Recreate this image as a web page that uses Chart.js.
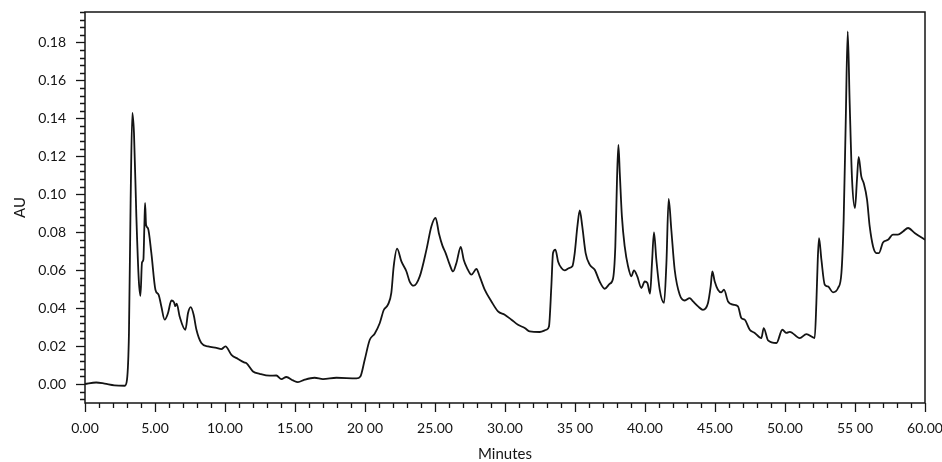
<!DOCTYPE html>
<html>
<head>
<meta charset="utf-8">
<title>Chromatogram</title>
<script src="https://cdn.jsdelivr.net/npm/chart.js@4.4.1/dist/chart.umd.min.js"></script>
<style>
  html, body { margin: 0; padding: 0; background: #fff; }
  #chart { display: block; }
</style>
</head>
<body>
<canvas id="chart" width="942" height="462"></canvas>
<script>
// retention time (min) and absorbance (AU)
const minutes = [
  0.0, 0.8, 1.4, 2.1, 2.84, 3.0, 3.14, 3.26, 3.38, 3.5, 3.67, 3.84, 3.96, 4.07, 4.17, 4.24, 4.29, 4.36, 4.5, 4.74,
  5.03, 5.26, 5.45, 5.69, 5.93, 6.17, 6.36, 6.45, 6.55, 6.76, 7.17, 7.36, 7.55, 7.76, 7.96, 8.31, 8.79, 9.39, 9.74,
  10.03, 10.46, 10.93, 11.36, 11.53, 12.0, 12.48, 13.19, 13.67, 14.03, 14.38, 14.86, 15.21, 15.69, 16.4, 17.0, 17.96,
  19.39, 19.67, 19.98, 20.34, 20.69, 21.05, 21.34, 21.64, 21.88, 22.05, 22.29, 22.6, 22.96, 23.19, 23.48, 23.91,
  24.39, 24.74, 25.04, 25.29, 25.53, 25.76, 26.05, 26.29, 26.53, 26.84, 27.05, 27.29, 27.6, 27.96, 28.19, 28.55,
  29.03, 29.5, 29.98, 30.46, 30.93, 31.41, 31.76, 32.48, 32.96, 33.14, 33.31, 33.43, 33.6, 33.79, 34.03, 34.26,
  34.57, 34.81, 34.98, 35.17, 35.34, 35.52, 35.76, 36.05, 36.41, 36.76, 37.12, 37.48, 37.71, 37.88, 38.0, 38.1,
  38.2, 38.35, 38.55, 38.79, 39.03, 39.21, 39.45, 39.74, 39.98, 40.17, 40.36, 40.5, 40.64, 40.81, 41.05, 41.36,
  41.53, 41.69, 41.88, 42.12, 42.48, 42.84, 43.19, 43.43, 43.79, 44.14, 44.5, 44.69, 44.81, 44.98, 45.21, 45.45,
  45.64, 45.93, 46.29, 46.64, 46.88, 47.12, 47.48, 47.84, 48.31, 48.48, 48.79, 49.39, 49.81, 50.1, 50.34, 51.05,
  51.53, 52.12, 52.24, 52.34, 52.43, 52.6, 52.84, 53.07, 53.43, 53.79, 54.03, 54.19, 54.34, 54.48, 54.62, 54.79,
  55.0, 55.14, 55.26, 55.45, 55.62, 55.86, 56.05, 56.29, 56.53, 56.71, 57.0, 57.36, 57.71, 58.07, 58.43, 58.79,
  59.26, 60.0
]
const absorbance = [
  0.0, 0.0008, 0.0002, -0.0007, -0.0009, 0.0023, 0.027, 0.097, 0.1428, 0.132, 0.088, 0.055, 0.0465, 0.064, 0.0655, 0.083, 0.0954, 0.084, 0.082, 0.069,
  0.0497, 0.047, 0.041, 0.0339, 0.0374, 0.044, 0.043, 0.041, 0.0423, 0.0356, 0.0286, 0.0374, 0.0405, 0.0365, 0.0286, 0.0216, 0.0198, 0.019, 0.0184,
  0.0198, 0.0154, 0.0132, 0.0114, 0.011, 0.0066, 0.0054, 0.0044, 0.0045, 0.0026, 0.0037, 0.0019, 0.001, 0.0023, 0.0033, 0.0026, 0.0033,
  0.003, 0.004, 0.0128, 0.0233, 0.0265, 0.032, 0.039, 0.0418, 0.048, 0.062, 0.0713, 0.0646, 0.0593, 0.054, 0.0518, 0.0567,
  0.0708, 0.083, 0.0875, 0.079, 0.0729, 0.069, 0.0629, 0.0593, 0.0638, 0.0722, 0.0655, 0.0611, 0.0576, 0.0606, 0.0567, 0.0497,
  0.0435, 0.0383, 0.0365, 0.0339, 0.0312, 0.0295, 0.0277, 0.0274, 0.0286, 0.0303, 0.0514, 0.069, 0.0708, 0.0646, 0.0611, 0.0599,
  0.0611, 0.062, 0.069, 0.083, 0.0915, 0.083, 0.069, 0.0629, 0.0602, 0.054, 0.0502, 0.0528, 0.0553, 0.0725, 0.1076, 0.126,
  0.111, 0.0883, 0.0725, 0.062, 0.0567, 0.0599, 0.0567, 0.0506, 0.054, 0.0532, 0.0476, 0.0638, 0.0799, 0.0655, 0.0497, 0.0427,
  0.0638, 0.0975, 0.0813, 0.0602, 0.047, 0.044, 0.0453, 0.0435, 0.0409, 0.0391, 0.0427, 0.0514, 0.0593, 0.054, 0.0497, 0.0483,
  0.0497, 0.0435, 0.0418, 0.0409, 0.0348, 0.0339, 0.0286, 0.0269, 0.0242, 0.0295, 0.023, 0.0216, 0.0286, 0.0269, 0.0275, 0.0242,
  0.0263, 0.0242, 0.0427, 0.0655, 0.0769, 0.0655, 0.0523, 0.0514, 0.0483, 0.0506, 0.0585, 0.0866, 0.139, 0.1858, 0.148, 0.1076,
  0.0927, 0.1076, 0.1196, 0.1094, 0.1059, 0.0971, 0.083, 0.0725, 0.069, 0.069, 0.0746, 0.076, 0.0787, 0.0787, 0.0804, 0.0822,
  0.0796, 0.076
]

// axis ticks
const xTicks = [0, 5, 10, 15, 20, 25, 30, 35, 40, 45, 50, 55, 60]
const xTickLabels = ["0.00", "5.00", "10.00", "15.00", "20 00", "25.00", "30.00", "35 00", "40.00", "45.00", "50.00", "55 00", "60.00"]
const yTicks = [0, 0.02, 0.04, 0.06, 0.08, 0.1, 0.12, 0.14, 0.16, 0.18]
const xMinorStep = 1
const yMinorStep = 0.004

const ink = '#141414'
const fontFamily = 'Lato, "Noto Sans", sans-serif'

// frame round the plot plus the short minor ticks
const framePlugin = {
  id: 'frame',
  afterDraw(chart) {
    const { ctx, chartArea: a, scales: { x, y } } = chart
    ctx.save()
    ctx.strokeStyle = ink
    ctx.lineWidth = 1.5
    ctx.strokeRect(a.left, a.top, a.right - a.left, a.bottom - a.top)

    ctx.lineWidth = 1.3
    ctx.beginPath()
    for (let t = x.min; t <= x.max + 1e-9; t += xMinorStep) {
      if (xTicks.includes(Math.round(t))) continue
      const px = Math.round(x.getPixelForValue(t)) + 0.5
      ctx.moveTo(px, a.bottom)
      ctx.lineTo(px, a.bottom + 5)
    }
    for (let i = -2; ; i++) {
      const v = i * yMinorStep
      if (v > y.max) break
      if (Math.abs(Math.round(v / 0.02) * 0.02 - v) < 1e-9) continue
      const py = Math.round(y.getPixelForValue(v)) + 0.5
      ctx.moveTo(a.left - 5, py)
      ctx.lineTo(a.left, py)
    }
    ctx.stroke()
    ctx.restore()
  }
}

const ctx = document.getElementById('chart').getContext('2d')
new Chart(ctx, {
  type: 'line',
  data: {
    datasets: [{
      data: minutes.map((t, i) => ({ x: t, y: absorbance[i] })),
      borderColor: ink,
      borderWidth: 1.8,
      pointRadius: 0,
      fill: false,
      cubicInterpolationMode: 'monotone'
    }]
  },
  options: {
    responsive: false,
    animation: false,
    layout: { padding: { top: 12, right: 17, left: 0, bottom: 0 } },
    plugins: { legend: { display: false }, tooltip: { enabled: false } },
    scales: {
      x: {
        type: 'linear',
        min: 0,
        max: 60,
        afterBuildTicks: scale => { scale.ticks = xTicks.map(v => ({ value: v })) },
        afterFit: scale => {
          scale.height = 59
          scale.paddingLeft = 0
          scale.paddingRight = 0
        },
        ticks: {
          autoSkip: false,
          maxRotation: 0,
          padding: 8,
          color: ink,
          font: { family: fontFamily, size: 14 },
          callback: (v, i) => xTickLabels[i]
        },
        grid: { drawOnChartArea: false, drawTicks: true, tickLength: 9, tickColor: ink, tickWidth: 1.3 },
        border: { display: false },
        title: {
          display: true,
          text: 'Minutes',
          color: ink,
          font: { family: fontFamily, size: 15, lineHeight: 1 },
          padding: { top: 0, bottom: 0 }
        }
      },
      y: {
        type: 'linear',
        min: -0.01,
        max: 0.196,
        afterBuildTicks: scale => { scale.ticks = yTicks.map(v => ({ value: v })) },
        afterFit: scale => {
          scale.width = 85
          scale.paddingTop = 0
          scale.paddingBottom = 0
        },
        ticks: {
          padding: 10,
          color: ink,
          font: { family: fontFamily, size: 14 },
          callback: v => v.toFixed(2)
        },
        grid: { drawOnChartArea: false, drawTicks: true, tickLength: 9, tickColor: ink, tickWidth: 1.3 },
        border: { display: false },
        title: {
          display: true,
          text: 'AU',
          color: ink,
          font: { family: fontFamily, size: 15, lineHeight: 1.2 },
          padding: { top: 11, bottom: 0 }
        }
      }
    }
  },
  plugins: [framePlugin]
})
</script>
</body>
</html>
